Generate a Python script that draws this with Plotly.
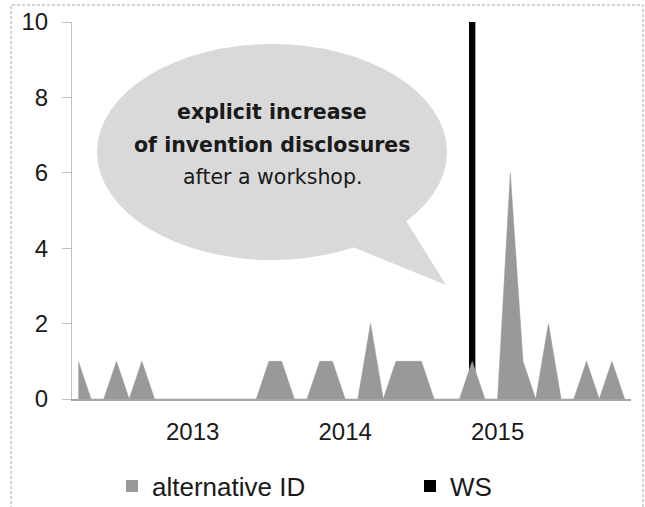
import pandas as pd
import plotly.graph_objects as go

# Monthly categories, April 2012 .. November 2015
months = [d.strftime("%Y-%m") for d in pd.date_range("2012-04-01", "2015-11-01", freq="MS")]

# Invention disclosures through the alternative ID channel, per month
alt_id = [1, 0, 0, 1, 0, 1, 0, 0, 0, 0, 0, 0, 0, 0, 0, 1, 1, 0, 0, 1, 1, 0,
          0, 2, 0, 1, 1, 1, 0, 0, 0, 1, 0, 0, 6, 1, 0, 2, 0, 0, 1, 0, 1, 0]

# Workshop marker (single month)
ws = [0, 0, 0, 0, 0, 0, 0, 0, 0, 0, 0, 0, 0, 0, 0, 0, 0, 0, 0, 0, 0, 0,
      0, 0, 0, 0, 0, 0, 0, 0, 0, 10, 0, 0, 0, 0, 0, 0, 0, 0, 0, 0, 0, 0]

year_ticks = ["2013-01", "2014-01", "2015-01"]
year_labels = ["2013", "2014", "2015"]

AREA = "#999999"
TICK_FONT = "Liberation Sans, Arial, sans-serif"
NOTE_FONT = "DejaVu Sans, Verdana, sans-serif"

fig = go.Figure()

fig.add_trace(go.Scatter(
    x=months, y=alt_id, mode="lines", fill="tozeroy",
    line=dict(color=AREA, width=0.5), fillcolor=AREA,
    showlegend=False, hoverinfo="x+y",
))
fig.add_trace(go.Bar(
    x=months, y=ws, name="WS", marker=dict(color="#000000", line=dict(width=0)),
    width=0.5, legend="legend2",
))
# legend entry for the area series
fig.add_trace(go.Scatter(
    x=[None], y=[None], mode="markers", name="alternative ID",
    marker=dict(symbol="square", size=12, color=AREA), legend="legend",
))

# speech bubble
px = lambda x: (x - 72) / 559
py = lambda y: (399 - y) / 377
BUBBLE = "#d9d9d9"
shapes = [
    dict(type="path", xref="paper", yref="paper",
         path=f"M{px(337)},{py(240.6)} L{px(446)},{py(285)} L{px(400.8)},{py(212.2)} Z",
         fillcolor=BUBBLE, line=dict(width=0), layer="above"),
    dict(type="circle", xref="paper", yref="paper",
         x0=px(97), x1=px(447), y0=py(260), y1=py(44),
         fillcolor=BUBBLE, line=dict(width=0), layer="above"),
    # dashed outer frame
    dict(type="rect", xref="paper", yref="paper",
         x0=px(11), x1=px(643), y0=py(540), y1=py(5),
         line=dict(color="#a6a6a6", width=1, dash="3px,2px"), fillcolor="rgba(0,0,0,0)"),
]

notes = [
    ("<b>explicit increase</b>", 112),
    ("<b>of invention disclosures</b>", 145),
    ("after a workshop.", 177),
]
annotations = [
    dict(text=t, xref="paper", yref="paper", x=px(272), y=py(yy),
         xanchor="center", yanchor="middle", showarrow=False,
         font=dict(family=NOTE_FONT, size=20.5, color="#1a1a1a"))
    for t, yy in notes
]

fig.update_layout(
    width=645, height=507,
    margin=dict(l=72, r=14, t=22, b=108, autoexpand=False),
    paper_bgcolor="white", plot_bgcolor="white",
    barmode="overlay",
    shapes=shapes, annotations=annotations,
    xaxis=dict(
        type="category", range=[-0.5, 43.5],
        tickmode="array", tickvals=year_ticks, ticktext=year_labels,
        ticks="", showgrid=False, zeroline=False,
        showline=True, linecolor="#a6a6a6", linewidth=1.5,
        tickfont=dict(family=TICK_FONT, size=24, color="#1a1a1a"),
        ticklabelstandoff=10,
    ),
    yaxis=dict(
        range=[0, 10], tickvals=[0, 2, 4, 6, 8, 10],
        ticks="outside", ticklen=9, tickcolor="#c0c0c0", tickwidth=1,
        showgrid=False, zeroline=False,
        showline=True, linecolor="#c0c0c0", linewidth=1,
        tickfont=dict(family=TICK_FONT, size=24, color="#1a1a1a"),
        ticklabelstandoff=9,
    ),
    legend=dict(
        orientation="h", x=px(112), y=py(486), xanchor="left", yanchor="middle",
        font=dict(family=TICK_FONT, size=26, color="#1a1a1a"),
        bgcolor="rgba(0,0,0,0)", borderwidth=0,
    ),
    legend2=dict(
        orientation="h", x=px(410), y=py(486), xanchor="left", yanchor="middle",
        font=dict(family=TICK_FONT, size=26, color="#1a1a1a"),
        bgcolor="rgba(0,0,0,0)", borderwidth=0,
    ),
)

fig.write_html("out.html")
